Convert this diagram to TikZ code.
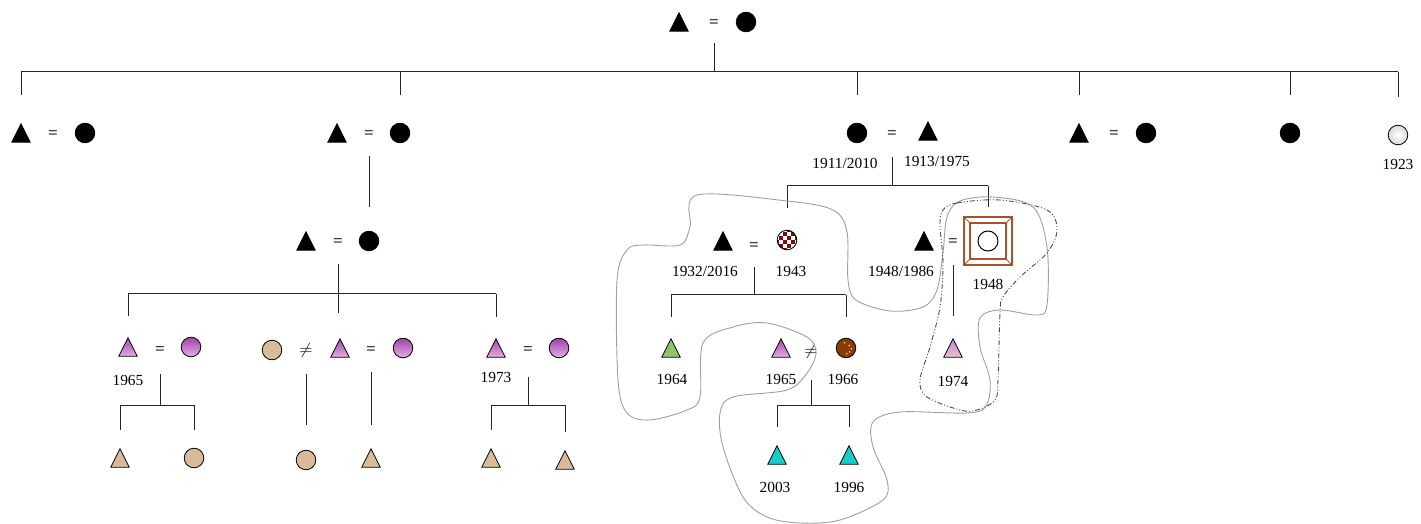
\documentclass[tikz,border=0pt]{standalone}
\usepackage{fontspec}
\setmainfont{Liberation Serif}
\usepackage{xcolor}

\definecolor{skin}{HTML}{D8BB98}
\definecolor{plumtop}{HTML}{A044A6}
\definecolor{plumbot}{HTML}{E6AEE8}
\definecolor{leaf}{HTML}{8EC46E}
\definecolor{aqua}{HTML}{16CCC8}
\definecolor{rust}{HTML}{8A3B0C}
\definecolor{wine}{HTML}{7A0C0C}
\definecolor{bark}{HTML}{A5532A}
\definecolor{liltop}{HTML}{B98AD8}
\definecolor{lilbot}{HTML}{EDC2C8}

\begin{document}
\begin{tikzpicture}[x=0.5pt, y=-0.5pt,
  kin/.style={draw=black!85, line width=0.5pt},
  loop/.style={draw=gray!75, line width=0.45pt},
  tri/.style={minimum width=9.8pt, minimum height=9.8pt, inner sep=0pt,
    path picture={\path[#1] ([shift={(0.3pt,0.3pt)}]path picture bounding box.south west)
      -- ([shift={(-0.3pt,0.3pt)}]path picture bounding box.south east)
      -- ([shift={(0pt,-0.3pt)}]path picture bounding box.north) -- cycle;}},
  man/.style={tri={draw,fill=#1}},
  pman/.style 2 args={tri={draw,top color=#1,bottom color=#2}},
  wom/.style={circle, draw, fill=#1, minimum size=9.8pt, inner sep=0pt},
  pwom/.style 2 args={circle, draw, top color=#1, bottom color=#2, minimum size=9.8pt, inner sep=0pt},
  chk/.style={circle, draw, minimum size=9.8pt, inner sep=0pt,
    path picture={\fill[white] (path picture bounding box.south west) rectangle (path picture bounding box.north east);
      \foreach \i in {-3,...,2} \foreach \j in {-3,...,2} {
        \pgfmathtruncatemacro\odd{mod(\i+\j+10,2)}
        \ifnum\odd=0 \fill[wine] ([shift={(\i*2pt,\j*2pt)}]path picture bounding box.center) rectangle ++(2pt,2pt);\fi}}},
  dots/.style={circle, draw, fill=rust, minimum size=9.8pt, inner sep=0pt,
    path picture={\foreach \p in {(1.6pt,1.2pt),(2.6pt,-0.4pt),(1.8pt,-1.9pt),(-0.8pt,2.6pt),(0.4pt,-2.8pt)}
      \fill[yellow!85!orange] ([shift={\p}]path picture bounding box.center) circle (0.45pt);}},
  sqframe/.style={rectangle, draw=bark, line width=0.6pt, minimum size=24pt, inner sep=0pt,
    path picture={
      \draw[bark, line width=0.6pt] ([shift={(3pt,3pt)}]path picture bounding box.south west) rectangle ([shift={(-3pt,-3pt)}]path picture bounding box.north east);
      \draw[bark, line width=0.4pt] (path picture bounding box.south west) -- ++(3pt,3pt)
        (path picture bounding box.south east) -- ++(-3pt,3pt)
        (path picture bounding box.north west) -- ++(3pt,-3pt)
        (path picture bounding box.north east) -- ++(-3pt,-3pt);
      \draw[black, line width=0.5pt] (path picture bounding box.center) circle (5pt);}},
  eq/.style={font=\bfseries\fontsize{8.5}{9}\selectfont, text=black!80, inner sep=0.5pt},
  neq/.style={inner sep=0.5pt, text=black!90, font=\fontsize{8}{9}\selectfont},
  yr/.style={font=\fontsize{7.7}{9}\selectfont, inner sep=0pt}]
\useasboundingbox (0,0) rectangle (1421,524);

% first generation
\node[man=black] (m0) at (679,22) {};
\node[eq] (e0) at (714,24) {=};
\node[wom=black] (f0) at (746,22) {};
\coordinate (b0) at (714,72);

% second generation
\node[man=black] (m1) at (21,133) {};
\node[eq] (e1) at (53,135) {=};
\node[wom=black] (f1) at (85,133) {};
\node[man=black] (m2) at (337,133) {};
\node[eq] (e2) at (369,135) {=};
\node[wom=black] (f2) at (400,133) {};
\node[wom=black] (f3) at (857,133) {};
\node[eq] (e3) at (892,135) {=};
\node[man=black] (m3) at (928,131) {};
\node[yr] (f3y) at (845,163) {1911/2010};
\node[yr] (m3y) at (937,161) {1913/1975};
\coordinate (b3) at (892,186);
\node[man=black] (m4) at (1079,133) {};
\node[eq] (e4) at (1114,135) {=};
\node[wom=black] (f4) at (1146,133) {};
\node[wom=black] (f5) at (1290,133) {};
\node[circle, draw, inner color=white, outer color=gray!30, minimum size=9.8pt, inner sep=0pt] (f6) at (1398,135) {};
\node[yr] (f6y) at (1398,164) {1923};

% third generation
\node[man=black] (m7) at (306,241) {};
\node[eq] (e7) at (338,243) {=};
\node[wom=black] (f7) at (369,241) {};
\coordinate (b7) at (338,294);
\node[man=black] (m11) at (723,241) {};
\node[eq] (e11) at (754,247) {=};
\node[chk] (f11) at (787,240) {};
\node[yr] (m11y) at (705,271) {1932/2016};
\node[yr] (f11y) at (791,271) {1943};
\coordinate (b11) at (754,295);
\node[man=black] (m12) at (924,241) {};
\node[eq] (e12) at (953,243) {=};
\node[sqframe] (q12) at (988,241) {};
\node[yr] (m12y) at (901,271) {1948/1986};
\node[yr] (q12y) at (988,284) {1948};

% fourth generation
\node[pman={plumtop}{plumbot}] (m8) at (128,347) {};
\node[eq] (e8) at (160,351) {=};
\node[pwom={plumtop}{plumbot}] (f8) at (191,347) {};
\node[yr] (m8y) at (128,380) {1965};
\coordinate (b8) at (160,405);
\node[wom=skin] (f9) at (272,350) {};
\node[neq] (u9) at (306,350) {$\neq$};
\node[pman={plumtop}{plumbot}] (m9) at (340,348) {};
\node[eq] (e9) at (371,351) {=};
\node[pwom={plumtop}{plumbot}] (w9) at (403,348) {};
\node[pman={plumtop}{plumbot}] (m10) at (496,348) {};
\node[eq] (e10) at (528,351) {=};
\node[pwom={plumtop}{plumbot}] (f10) at (559,348) {};
\node[yr] (m10y) at (496,377) {1973};
\coordinate (b10) at (528,405);
\node[man=leaf] (m13) at (671,348) {};
\node[yr] (m13y) at (672,379) {1964};
\node[pman={plumtop}{plumbot}] (m14) at (781,348) {};
\node[neq] (u14) at (811,351) {$\neq$};
\node[dots] (f14) at (846,348) {};
\node[yr] (m14y) at (781,379) {1965};
\node[yr] (f14y) at (843,379) {1966};
\coordinate (b14) at (811,405);
\node[pman={liltop}{lilbot}] (m16) at (953,348) {};
\node[yr] (m16y) at (953,381) {1974};

% fifth generation
\node[man=skin] (m21) at (120,458) {};
\node[wom=skin] (f21) at (194,458) {};
\node[wom=skin] (f22) at (306,460) {};
\node[man=skin] (m22) at (371,458) {};
\node[man=skin] (m23) at (491,458) {};
\node[man=skin] (m24) at (565,460) {};
\node[man=aqua] (m17) at (777,455) {};
\node[man=aqua] (m18) at (849,455) {};
\node[yr] (m17y) at (775,487) {2003};
\node[yr] (m18y) at (849,487) {1996};

% descent lines
\draw[kin, shorten <=7pt] (e0) -- (b0);
\draw[kin] (m1 |- b0) -- (f6 |- b0);
\foreach \k in {m1,f2,f3,m4,f5,f6} \draw[kin, shorten >=14pt] (\k |- b0) -- (\k);
\draw[kin, shorten <=8pt, shorten >=12pt] (e2) -- (f7);
\draw[kin, shorten <=8pt, shorten >=-9.5pt] (e7) -- (b7);
\draw[kin] (m8 |- b7) -- (m10 |- b7);
\foreach \k in {m8,m10} \draw[kin, shorten >=10.5pt] (\k |- b7) -- (\k);
\draw[kin, shorten <=9pt] (e8) -- (b8);
\draw[kin] (m21 |- b8) -- (f21 |- b8);
\foreach \k in {m21,f21} \draw[kin, shorten >=9pt] (\k |- b8) -- (\k);
\draw[kin, shorten <=7.5pt, shorten >=12.5pt] (u9) -- (f22);
\draw[kin, shorten <=8pt, shorten >=11.5pt] (e9) -- (m22);
\draw[kin, shorten <=10.5pt] (e10) -- (b10);
\draw[kin] (m23 |- b10) -- (m24 |- b10);
\foreach \k in {m23,m24} \draw[kin, shorten >=9pt] (\k |- b10) -- (\k);
\draw[kin, shorten <=8.5pt] (e3) -- (b3);
\draw[kin] (f11 |- b3) -- (q12 |- b3);
\draw[kin, shorten >=11pt] (f11 |- b3) -- (f11);
\draw[kin, shorten >=4.5pt] (q12 |- b3) -- (q12);
\draw[kin, shorten <=7.5pt] (e11) -- (b11);
\draw[kin] (m13 |- b11) -- (f14 |- b11);
\foreach \k in {m13,f14} \draw[kin, shorten >=10.5pt] (\k |- b11) -- (\k);
\draw[kin, shorten <=8.5pt, shorten >=11pt] (e12) -- (m16);
\draw[kin, shorten <=10pt] (u14) -- (b14);
\draw[kin] (m17 |- b14) -- (m18 |- b14);
\foreach \k in {m17,m18} \draw[kin, shorten >=9pt] (\k |- b14) -- (\k);

% household outlines
\draw[loop] plot[smooth cycle, tension=0.55] coordinates {(697,195) (787,201) (833,210) (847,232) (848,280)
  (856,300) (890,311) (923,307) (937,290) (943,253) (947,217) (960,201) (993,197) (1033,207) (1047,247)
  (1047,305) (1037,315) (1000,310) (980,318) (980,347) (990,380) (986,406) (967,413) (900,412) (873,422)
  (873,447) (887,480) (883,500) (840,520) (800,523) (767,517) (743,497) (723,447) (720,413) (733,397)
  (787,390) (807,373) (816,353) (807,337) (767,323) (733,327) (703,343) (700,397) (687,410) (650,420)
  (627,413) (618,380) (617,280) (627,250) (643,245) (680,245) (690,227)};
\draw[draw=black!70, line width=0.45pt, dash pattern=on 2.5pt off 1pt on 0.5pt off 1pt on 0.5pt off 1pt]
  plot[smooth cycle, tension=0.55] coordinates {(943,210) (957,203) (1000,200) (1047,210) (1057,230)
  (1047,253) (1020,277) (1003,297) (1000,313) (998,380) (995,400) (977,410) (960,410) (927,397)
  (920,380) (930,347) (940,307) (943,263) (940,225)};
\end{tikzpicture}
\end{document}
